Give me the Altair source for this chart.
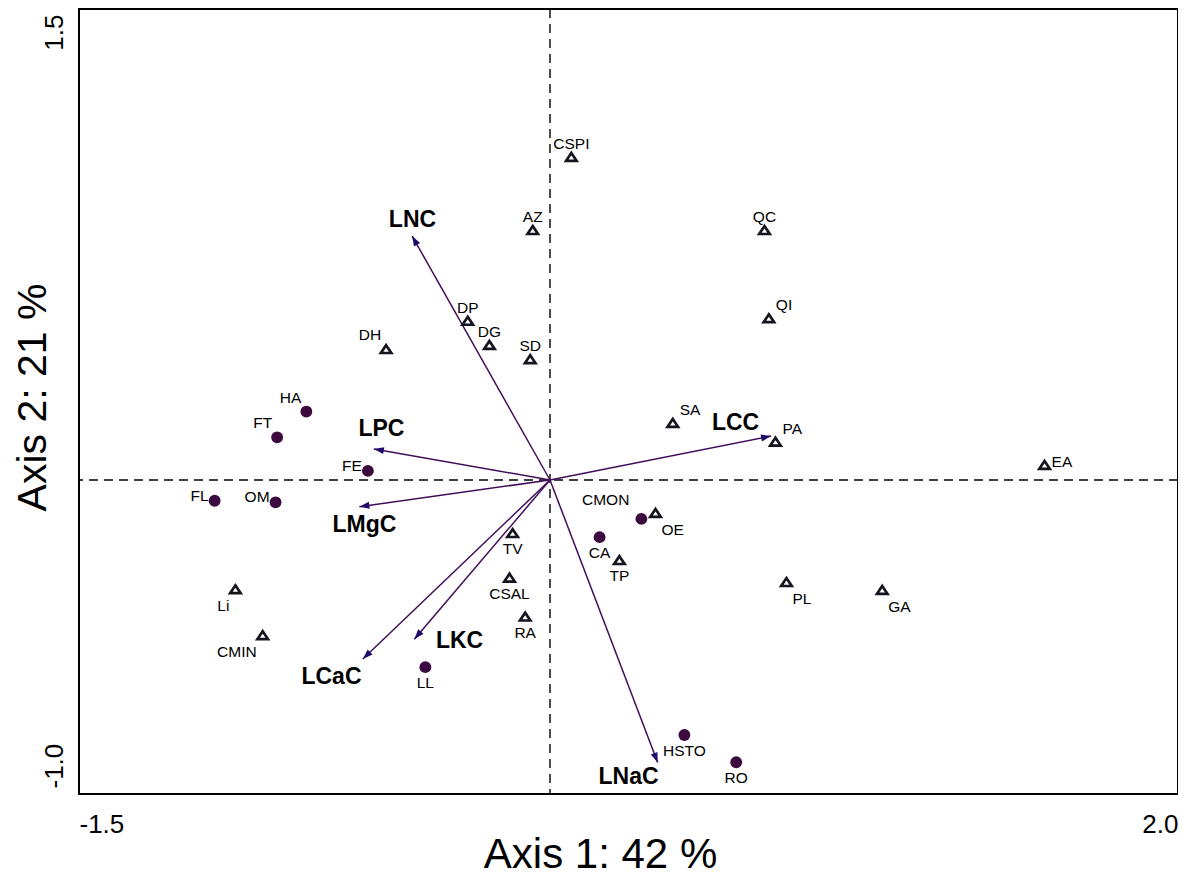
import altair as alt
import pandas as pd
import numpy as np

# ---------------- data ----------------
sites = ["HA", "FT", "FE", "FL", "OM", "LL", "CA", "CMON", "HSTO", "RO"]
site_x = [-0.776, -0.869, -0.580, -1.068, -0.874, -0.397, 0.158, 0.291, 0.428, 0.593]
site_y = [0.218, 0.136, 0.029, -0.066, -0.071, -0.596, -0.182, -0.124, -0.812, -0.899]
site_pos = ["aboveleft", "aboveleft", "left", "left", "left", "below", "below",
            "cmon", "below", "below"]

species = ["CSPI", "AZ", "QC", "QI", "DP", "DG", "DH", "SD", "SA", "PA", "EA",
           "OE", "TV", "TP", "PL", "GA", "CSAL", "RA", "Li", "CMIN"]
sp_x = [0.068, -0.055, 0.683, 0.697, -0.262, -0.193, -0.522, -0.063, 0.391, 0.718,
        1.575, 0.336, -0.119, 0.221, 0.753, 1.058, -0.129, -0.079, -1.002, -0.915]
sp_y = [1.029, 0.796, 0.796, 0.515, 0.507, 0.430, 0.417, 0.385, 0.182, 0.122,
        0.048, -0.105, -0.169, -0.255, -0.325, -0.350, -0.311, -0.435, -0.348, -0.494]
sp_pos = ["above", "above", "above", "aboveright", "above", "above", "aboveleft",
          "above", "aboveright", "aboveright", "right", "belowright", "below",
          "below", "belowright", "belowright", "below", "below", "belowleft",
          "belowleft"]

vectors = ["LNC", "LPC", "LMgC", "LCaC", "LKC", "LNaC", "LCC"]
vec_x = [-0.439, -0.561, -0.607, -0.596, -0.432, 0.343, 0.704]
vec_y = [0.777, 0.099, -0.085, -0.570, -0.507, -0.900, 0.140]
vec_lab_x = [-0.438, -0.537, -0.591, -0.696, -0.288, 0.250, 0.591]
vec_lab_y = [0.830, 0.166, -0.140, -0.624, -0.510, -0.943, 0.185]

x_ticks = [-1.5, 2.0]
y_ticks = [-1.0, 1.5]
x_title = "Axis 1: 42 %"
y_title = "Axis 2: 21 %"

# ---------------- styles ----------------
FONT = "Liberation Sans"
SITE_COLOR = "#3d0a40"
SPECIES_COLOR = "#15151f"
ARROW_COLOR = "#400f5c"
HEAD_COLOR = "#1f0a6b"

W, H = 1099, 785

site_df = pd.DataFrame({"name": sites, "x": site_x, "y": site_y, "pos": site_pos})
sp_df = pd.DataFrame({"name": species, "x": sp_x, "y": sp_y, "pos": sp_pos})
vec_df = pd.DataFrame({"name": vectors, "x": vec_x, "y": vec_y,
                       "lx": vec_lab_x, "ly": vec_lab_y})
vec_df["x0"] = 0.0
vec_df["y0"] = 0.0
vec_df["ang"] = (np.degrees(np.arctan2(vec_df["x"], vec_df["y"])) + 360.0) % 360.0

xs = alt.Scale(domain=[x_ticks[0], x_ticks[-1]], nice=False, zero=False)
ys = alt.Scale(domain=[y_ticks[0], y_ticks[-1]], nice=False, zero=False)

LABEL_EXPR = "datum.value < 0 ? '-' + format(-datum.value, '.1f') : format(datum.value, '.1f')"

xaxis = alt.Axis(values=x_ticks, title=x_title, ticks=False, domain=False, grid=False,
                 labelFlush=True, labelFontSize=26, labelPadding=17, labelFont=FONT,
                 labelColor="black", labelExpr=LABEL_EXPR,
                 titleFont=FONT, titleFontSize=42, titleFontWeight="normal",
                 titleColor="black", titleX=521, titleY=73,
                 titleBaseline="alphabetic", titleAlign="center")
yaxis = alt.Axis(values=y_ticks, title=y_title, ticks=False, domain=False, grid=False,
                 labelFlush=False, labelAngle=270, labelFontSize=26, labelPadding=17,
                 labelFont=FONT, labelColor="black", labelExpr=LABEL_EXPR,
                 labelBaseline="alphabetic",
                 labelAlign={"condition": {"test": "datum.value > 0", "value": "right"},
                             "value": "left"},
                 labelOffset={"condition": {"test": "datum.value > 0", "value": 5},
                              "value": -6},
                 titleFont=FONT, titleFontSize=41, titleFontWeight="normal",
                 titleColor="black", titleAngle=270, titleX=-34, titleY=388,
                 titleBaseline="alphabetic", titleAlign="center")

zero_df = pd.DataFrame({"v": [0.0]})
vline = alt.Chart(zero_df).mark_rule(color="black", strokeWidth=1.4, strokeDash=[9, 6]).encode(
    x=alt.X("v:Q", scale=xs, axis=xaxis))
hline = alt.Chart(zero_df).mark_rule(color="black", strokeWidth=1.4, strokeDash=[9, 6]).encode(
    y=alt.Y("v:Q", scale=ys, axis=yaxis))

shafts = alt.Chart(vec_df).mark_rule(color=ARROW_COLOR, strokeWidth=1.5).encode(
    x=alt.X("x0:Q", scale=xs), y=alt.Y("y0:Q", scale=ys),
    x2="x:Q", y2="y:Q")

heads = alt.Chart(vec_df).mark_point(
    shape="M0,0 L-0.7,2 L0.7,2 Z", filled=True, size=100, color=HEAD_COLOR,
    opacity=1, strokeWidth=0).encode(
    x=alt.X("x:Q", scale=xs), y=alt.Y("y:Q", scale=ys),
    angle=alt.Angle("ang:Q", scale=None))

tri = alt.Chart(sp_df).mark_point(
    shape="M0,-0.75 L1,0.75 L-1,0.75 Z", filled=False, size=110,
    color=SPECIES_COLOR, strokeWidth=2.7, opacity=1).encode(
    x=alt.X("x:Q", scale=xs), y=alt.Y("y:Q", scale=ys))

circ = alt.Chart(site_df).mark_circle(size=140, color=SITE_COLOR, opacity=1).encode(
    x=alt.X("x:Q", scale=xs), y=alt.Y("y:Q", scale=ys))

placements = {
    "above": ("center", 0, -13),
    "below": ("center", 0, 16),
    "aboveleft": ("right", -5, -14),
    "aboveright": ("left", 7, -13),
    "left": ("right", -6, -5),
    "right": ("left", 7, -3),
    "belowright": ("left", 6, 17),
    "belowleft": ("right", -6, 17),
    "cmon": ("right", -12, -19),
}

all_pts = pd.concat([site_df, sp_df], ignore_index=True)
label_layers = []
for key, (al, dx, dy) in placements.items():
    sub = all_pts[all_pts["pos"] == key]
    if len(sub) == 0:
        continue
    label_layers.append(
        alt.Chart(sub).mark_text(align=al, baseline="middle", dx=dx, dy=dy,
                                 font=FONT, fontSize=15.5, color="black").encode(
            x=alt.X("x:Q", scale=xs), y=alt.Y("y:Q", scale=ys), text="name:N"))

vec_labels = alt.Chart(vec_df).mark_text(
    align="center", baseline="middle", font=FONT, fontSize=23, fontWeight="bold",
    color="black", dy=1).encode(
    x=alt.X("lx:Q", scale=xs), y=alt.Y("ly:Q", scale=ys), text="name:N")

chart = alt.layer(vline, hline, shafts, heads, tri, circ, *label_layers, vec_labels).properties(
    width=W, height=H,
    background="white",
    autosize=alt.AutoSizeParams(type="none"),
    padding={"left": 71, "top": 1, "right": 0, "bottom": 82},
).configure_view(stroke="black", strokeWidth=2)

chart.save("out.html", embed_options={"renderer": "svg", "actions": False})
